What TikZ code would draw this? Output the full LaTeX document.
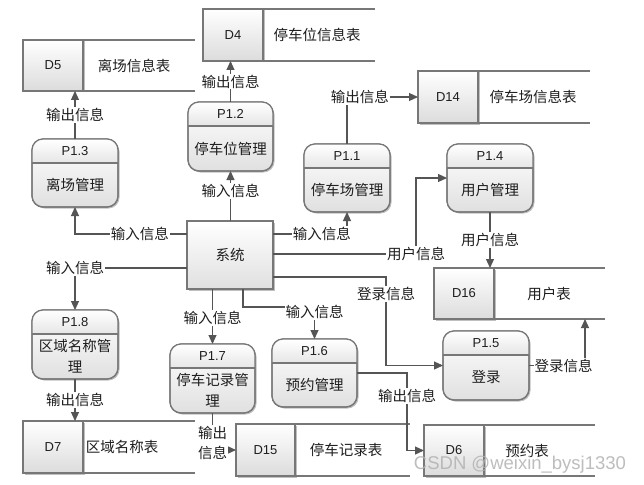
\documentclass[tikz,border=0pt]{standalone}
\usepackage{fontspec}
\setmainfont{Liberation Sans}
\newfontfamily\cjk{Noto Sans CJK SC}
\usetikzlibrary{arrows.meta,calc,shadows}
\definecolor{boxgray}{HTML}{777777}
\definecolor{linegray}{HTML}{555555}
\definecolor{idgray}{HTML}{DCDCDC}
\definecolor{bodygray}{HTML}{E0E0E0}
\definecolor{hdgray}{HTML}{E6E6E6}
\definecolor{txt}{HTML}{1E1E1E}
\tikzset{
 boxline/.style={draw=boxgray, line width=1.2pt},
 flow/.style={draw=linegray, line width=1.1pt, -{Triangle[length=9pt,width=8pt]}},
 lbl/.style={fill=white, inner sep=1pt, text=txt, font=\cjk\fontsize{14.5}{20}\selectfont},
 cjktext/.style={text=txt, inner sep=0pt, font=\cjk\fontsize{14.5}{21}\selectfont},
 idtext/.style={text=txt, inner sep=0pt, font=\fontsize{13}{15}\selectfont},
 storearea/.style={rectangle, inner sep=0pt, outer sep=0pt},
 softshadow/.style={drop shadow={shadow xshift=1.5pt, shadow yshift=-1.5pt, opacity=0.25, fill=black}},
 idbox/.style={rectangle, inner sep=0pt, outer sep=0pt, draw=boxgray, line width=1.2pt, top color=white, bottom color=idgray, text=txt, font=\fontsize{13}{15}\selectfont, softshadow},
 procbox/.style={rectangle, rounded corners=11pt, inner sep=0pt, outer sep=0pt, draw=boxgray, line width=1.2pt, top color=white, bottom color=bodygray, softshadow},
 sysbox/.style={rectangle, inner sep=0pt, outer sep=0pt, draw=boxgray, line width=1.2pt, top color=white, bottom color=bodygray, softshadow, minimum width=86pt, minimum height=68pt, text=txt, font=\cjk\fontsize{14.5}{17}\selectfont}
}
% data store: name, left, top, divider, right, bottom, id, text x, text
\newcommand\dstore[9]{%
  \node[storearea, anchor=north west, minimum width={#5-#2}, minimum height={#6-#3}] (#1) at (#2,#3) {};
  \node[idbox, anchor=north west, minimum width={#4-#2}, minimum height={#6-#3}] (#1id) at (#2,#3) {#7};
  \draw[boxline] (#1id.north east) -- (#5,#3) (#1id.south east) -- (#5,#6);
  \node[cjktext] (#1txt) at (#8,{(#3+#6)/2}) {#9};
}
% process: name, left, top, right, bottom, id, text
\newcommand\proc[7]{%
  \node[procbox, anchor=north west, minimum width={#4-#2}, minimum height={#5-#3}] (#1) at (#2,#3) {};
  \begin{scope}
    \clip[rounded corners=11pt] (#2,#3) rectangle (#4,#5);
    \shade[top color=white, bottom color=hdgray] (#2,#3) rectangle (#4,#3+24);
  \end{scope}
  \draw[boxline, rounded corners=11pt] (#2,#3) rectangle (#4,#5);
  \draw[boxline] (#2,#3+24) -- (#4,#3+24);
  \node[idtext] (#1id) at ({(#2+#4)/2},#3+12) {#6};
  \node[cjktext, align=center] (#1txt) at ({(#2+#4)/2},{(#3+24+#5)/2}) {#7};
}
\begin{document}
\begin{tikzpicture}[x=1pt,y=-1pt]
\fill[white] (0,0) rectangle (644,484);
\useasboundingbox (0,0) rectangle (644,484);

% data stores
\dstore{D5}{23}{40}{83}{195}{91}{D5}{134}{离场信息表}
\dstore{D4}{203}{9}{263}{375}{61}{D4}{317}{停车位信息表}
\dstore{D14}{418}{71}{478}{590}{123}{D14}{533}{停车场信息表}
\dstore{D16}{434}{268}{494}{605}{319}{D16}{549}{用户表}
\dstore{D7}{23}{421}{83}{195}{473}{D7}{122}{区域名称表}
\dstore{D15}{236}{424}{295}{410}{476}{D15}{346}{停车记录表}
\dstore{D6}{424}{425}{484}{595}{476}{D6}{527}{预约表}

% processes
\proc{P13}{32}{139}{118}{207}{P1.3}{离场管理}
\proc{P12}{188}{102}{273}{171}{P1.2}{停车位管理}
\proc{P11}{304}{144}{390}{212}{P1.1}{停车场管理}
\proc{P14}{447}{144}{533}{212}{P1.4}{用户管理}
\proc{P18}{32}{310}{118}{379}{P1.8}{区域名称管\\理}
\proc{P17}{170}{344}{255}{413}{P1.7}{停车记录管\\理}
\proc{P16}{272}{339}{357}{407}{P1.6}{预约管理}
\proc{P15}{443}{331}{529}{400}{P1.5}{登录}

% system
\node[sysbox, anchor=north west] (SYS) at (187,221) {系统};

% connectors
\draw[flow] ($(SYS.north west)+(0,13)$) -| node[lbl,pos=0.21]{输入信息} (P13.south);
\draw[flow] (P12.south |- SYS.north) -- node[lbl,pos=0.6]{输入信息} (P12.south);
\draw[flow] (P12.north) -- node[lbl]{输出信息} (P12.north |- D4.south);
\draw[flow] (P13.north) -- node[lbl]{输出信息} (P13.north |- D5.south);
\draw[flow] ($(SYS.north east)+(0,13)$) -| node[lbl,pos=0.33]{输入信息} (P11.south);
\draw[flow] (P11.north) |- node[lbl,pos=0.59]{输出信息} (D14.west);
\draw[flow] ($(SYS.north east)+(0,33)$) -| node[lbl,pos=0.5]{用户信息} ($(P14.west)+(-31,0)$) -- (P14.west);
\draw[flow] (P14.south) -- node[lbl]{用户信息} (P14.south |- D16.north);
\draw[flow] ($(SYS.south east)+(0,-12)$) -| node[lbl,pos=0.595]{登录信息} ($(P15.west)+(-57,0)$) -- (P15.west);
\draw[flow] (P15.east) -| node[lbl,pos=0.31]{登录信息} ($(D16.south)+(65.5,0)$);
\draw[flow] ($(SYS.north west)+(0,47)$) -| node[lbl,pos=0.5]{输入信息} (P18.north);
\draw[flow] (P18.south) -- node[lbl]{输出信息} (P18.south |- D7.north);
\draw[flow] (P17.north |- SYS.south) -- node[lbl,pos=0.53]{输入信息} (P17.north);
\draw[flow] ($(SYS.south west)+(56,0)$) |- ($(P16.north)+(0,-32)$) -- node[lbl,pos=0.15]{输入信息} (P16.north);
\draw[flow] (P17.south) |- node[lbl,pos=0.4,align=center]{输出\\信息} (D15.west);
\draw[flow] (P16.east) -| node[lbl,pos=0.65]{输出信息} ($(D6.west)+(-17,0)$) -- (D6.west);

% watermark
\node[font=\fontsize{18.5}{20}\selectfont, text=gray!60, opacity=0.85] (wm) at (520,465) {CSDN @weixin\_bysj1330};
\end{tikzpicture}
\end{document}
